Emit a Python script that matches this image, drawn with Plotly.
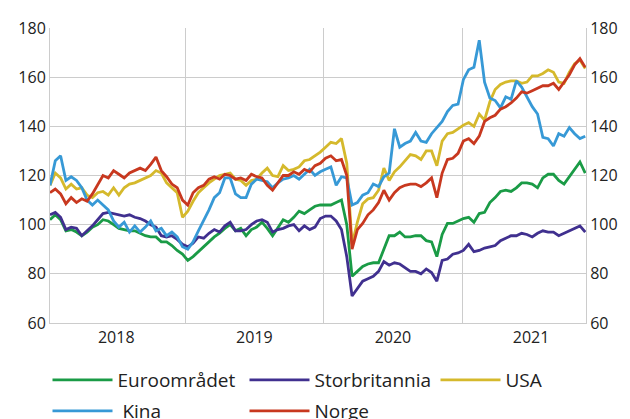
import pandas as pd
import plotly.graph_objects as go

# ukentlige observasjoner, annenhver uke
dates = pd.date_range("2018-01-08", periods=102, freq="14D")

euro = [102, 104, 102, 97.5, 98, 97, 95.5, 97, 99, 100, 102, 101.5, 100, 98.5, 98, 97.5, 97.5, 96.5, 95.5, 95,
        95, 93, 93, 91.5, 89.5, 88, 85.5,
        87, 89, 91, 93, 95, 96.5, 98.5, 100, 97.5, 98.5, 95.5, 98, 99, 101, 98.5, 95.5, 99, 102, 101, 103,
        105.5, 104.5, 106, 107.5, 108,
        108, 108, 109, 110, 100, 79, 81, 83, 84, 84.5, 84.5, 90, 95.5, 95.5, 97, 95, 95, 95.5, 95.5, 93.5,
        93, 87, 96, 100.5, 100.5, 101.5, 102.5,
        103, 101, 104.5, 105, 109, 111, 113.5, 114, 113.5, 115, 117, 117, 116.5, 115, 119, 120.5, 120.5,
        118, 116.5, 119.5, 122.5, 125.5, 121]

uk = [104, 105, 103, 98, 99, 98.5, 95.5, 97.5, 99.5, 102, 104.5, 105, 104.5, 104, 103.5, 104, 103, 102.5,
      101.5, 100, 99, 95.5, 95, 95.5, 94, 92, 91,
      92.5, 95, 94.5, 96.5, 98, 97, 99.5, 101, 97.5, 97.5, 98, 100, 101.5, 102, 101, 97, 98, 98.5, 99.5,
      100, 97.5, 99.5, 98, 99, 102.5,
      103.5, 103.5, 101.5, 98, 87, 71, 74, 77, 78, 79, 81, 85, 83.5, 84.5, 84, 82.5, 81, 81, 80, 82, 80.5,
      77, 85.5, 86, 88, 88.5, 89.5,
      92, 89, 89.5, 90.5, 91, 91.5, 93.5, 94.5, 95.5, 95.5, 96.5, 96, 95, 96.5, 97.5, 97, 97, 95.5, 96.5,
      97.5, 98.5, 99.5, 97]

usa = [116, 121, 119, 114.5, 116.5, 114.5, 115, 112, 111, 113, 113.5, 112, 115, 112, 115, 116.5, 117, 118,
       119, 120, 122, 121, 117, 115, 113, 103, 105.5,
       109.5, 113, 115, 117, 118.5, 120, 120.5, 121, 118.5, 118, 116, 118, 118.5, 121, 123, 120, 119.5, 124,
       122, 122.5, 123.5, 126, 126.5, 128, 129.5,
       131.5, 133.5, 133, 135, 125, 92, 101, 108.5, 110.5, 111, 114, 123, 118, 121.5, 123.5, 126, 128.5, 128,
       126.5, 130, 130, 124, 134, 137, 137.5, 139, 140.5,
       141.5, 140, 145, 142.5, 150, 155, 157, 158, 158.5, 158.5, 157.5, 158, 160.5, 160.5, 161.5, 163, 162,
       158, 157.5, 162, 165.5, 167, 163.5]

kina = [116, 126, 128, 118, 119.5, 118, 115, 110, 108, 110, 108, 106, 101.5, 99, 101, 97, 99.5, 97, 99,
        101.5, 97.5, 98.5, 95.5, 97, 95, 91, 90,
        93, 97.5, 101.5, 106, 111, 113, 119, 119, 112.5, 111, 111, 116.5, 118.5, 118, 117.5, 115, 117, 118.5,
        119, 120, 118.5, 120.5, 122.5, 120, 121.5,
        122.5, 123.5, 116, 119.5, 119, 108, 109, 112, 113, 116.5, 115.5, 119.5, 121, 139, 131.5, 133, 134,
        137.5, 134, 133.5, 137, 139.5, 142, 146, 148.5, 149, 159,
        163, 164, 175, 158, 151.5, 150.5, 147.5, 152, 151, 158.5, 156, 152, 148, 145, 135.5, 135, 132, 137,
        136, 139.5, 137, 135, 136]

norge = [113, 114.5, 112.5, 108.5, 111, 109, 110.5, 109.5, 112.5, 116, 120, 119, 122, 120.5, 119, 121, 122,
         123, 122, 124.5, 127.5, 122, 119.5, 116.5, 115, 110, 108,
         113, 115, 116, 118.5, 119.5, 118.5, 120.5, 120, 118.5, 119, 118, 120.5, 119.5, 119, 116, 114, 117,
         120, 120, 121.5, 120.5, 122.5, 121.5, 124, 125,
         127, 128, 126, 126.5, 120, 90, 98, 100.5, 104, 106, 109, 114, 110, 113, 115, 116, 116.5, 116.5,
         115.5, 117, 119, 111, 121, 126.5, 127, 129, 134,
         135, 133, 136, 142, 143.5, 144.5, 147, 148, 149.5, 151.5, 154, 153.5, 154.5, 155.5, 156.5, 156.5,
         157.5, 155, 158, 161, 165, 167.5, 164]

year_labels = ["2018", "2019", "2020", "2021"]
year_pos = ["2018-07-02", "2019-07-02", "2020-07-02", "2021-07-02"]
year_breaks = ["2019-01-01", "2020-01-01", "2021-01-01"]

# navn, data, farge, legendeblokk
series = [
    ("Euroområdet", euro, "#1a9b46", "legend"),
    ("Storbritannia", uk, "#40308f", "legend"),
    ("USA", usa, "#d5b92c", "legend3"),
    ("\u00a0Kina", kina, "#3799d6", "legend2"),
    ("Norge", norge, "#c8381f", "legend2"),
]

grid = "#cccccc"
fnt = dict(family="Open Sans", size=16, color="#222222")
leg_font = dict(family="Open Sans", size=19, color="#222222")

fig = go.Figure()
for name, vals, color, leg in series:
    fig.add_trace(go.Scatter(x=dates, y=vals, name=name, mode="lines", legend=leg,
                             line=dict(color=color, width=2.8)))

# usynlig spor slik at høyre akse tegnes
fig.add_trace(go.Scatter(x=[dates[0]], y=[None], yaxis="y2", showlegend=False,
                         hoverinfo="skip", mode="lines"))

leg_common = dict(orientation="h", xref="container", yref="container",
                  xanchor="left", yanchor="middle", entrywidth=122, entrywidthmode="pixels",
                  itemwidth=60, font=leg_font, traceorder="normal", bgcolor="rgba(0,0,0,0)")

fig.update_layout(
    width=630, height=419,
    margin=dict(l=50, r=41, t=28, b=96),
    paper_bgcolor="white", plot_bgcolor="white",
    font=fnt,
    showlegend=True,
    legend=dict(leg_common, x=47.5 / 630, y=(419 - 380) / 419),
    legend3=dict(leg_common, x=435.5 / 630, y=(419 - 380) / 419),
    legend2=dict(leg_common, x=47.5 / 630, y=(419 - 411) / 419),
    xaxis=dict(range=["2018-01-08", "2021-11-24"], tickvals=year_pos, ticktext=year_labels,
               showgrid=False, ticks="", showline=True, linecolor=grid, linewidth=1,
               minor=dict(tickvals=year_breaks, showgrid=True, gridcolor=grid, gridwidth=1, ticks=""),
               zeroline=False),
    yaxis=dict(range=[60, 180], dtick=20, showgrid=True, gridcolor=grid, gridwidth=1,
               showline=True, linecolor=grid, linewidth=1, ticks="", zeroline=False),
    yaxis2=dict(range=[60, 180], dtick=20, overlaying="y", side="right", anchor="x",
                showgrid=False, showline=True, linecolor=grid, linewidth=1, ticks="", zeroline=False),
)

fig.write_html("out.html", config={"displayModeBar": False},
               post_script="document.body.style.margin='0';")
